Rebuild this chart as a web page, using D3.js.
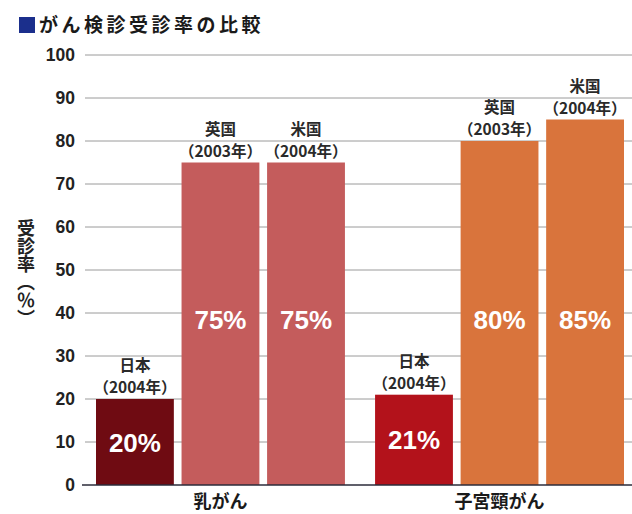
<!DOCTYPE html>
<html>
<head>
<meta charset="utf-8">
<script src="https://cdn.jsdelivr.net/npm/d3@7"></script>
<style>
  html, body { margin: 0; padding: 0; background: #fff; }
  svg { display: block; }
</style>
</head>
<body>
<svg id="chart" width="632" height="514"></svg>
<script>
// Cancer screening rates by country
const categories = ["乳がん", "子宮頸がん"];
const countries = ["日本", "英国", "米国"];
const years = [["2004年", "2003年", "2004年"], ["2004年", "2003年", "2004年"]];
const breastRates = [20, 75, 75];
const cervicalRates = [21, 80, 85];
const seriesValues = [breastRates, cervicalRates];
const yTicks = [0, 10, 20, 30, 40, 50, 60, 70, 80, 90, 100];
const barColors = [
  ["#6f0b12", "#c45c5c", "#c45c5c"],
  ["#b3121b", "#d9743c", "#d9743c"]
];

const svg = d3.select("#chart");
const jpFont = "'Noto Sans CJK JP', 'Noto Sans', sans-serif";
const numFont = "'Liberation Sans', Arial, sans-serif";

const y = d3.scaleLinear().domain([0, 100]).range([485, 55]);
const x0 = d3.scaleBand().domain(categories).range([96, 624]).paddingInner(0.108).paddingOuter(0);
const x1 = d3.scaleBand().domain(countries).range([0, x0.bandwidth()]).paddingInner(0.09).paddingOuter(0);

// Title with square marker
svg.append("rect").attr("x", 19).attr("y", 17).attr("width", 16).attr("height", 16).attr("fill", "#1b2f8c");
svg.append("text").attr("x", 39).attr("y", 32)
  .attr("font-family", jpFont).attr("font-weight", 700).attr("font-size", 19)
  .attr("letter-spacing", 3.5).attr("fill", "#1a1a1a")
  .text("がん検診受診率の比較");

// Tick labels
const axis = d3.axisLeft(y).tickValues(yTicks).tickSize(0).tickPadding(10);
const gAxis = svg.append("g").attr("transform", "translate(85,0)").call(axis);
gAxis.select(".domain").remove();
gAxis.selectAll("text")
  .attr("font-family", numFont).attr("font-weight", 700).attr("font-size", 17.5).attr("fill", "#222");

// Gridlines
svg.append("g").selectAll("line").data(yTicks.filter(t => t > 0)).join("line")
  .attr("x1", 85).attr("x2", 632)
  .attr("y1", d => y(d)).attr("y2", d => y(d))
  .attr("stroke", "#9a9a9a").attr("stroke-width", 1);

// Bars
const groups = svg.append("g").selectAll("g").data(categories).join("g")
  .attr("transform", d => `translate(${x0(d)},0)`);

groups.each(function (cat, ci) {
  const g = d3.select(this);
  const rows = countries.map((c, i) => ({ c, i, v: seriesValues[ci][i], yr: years[ci][i] }));

  g.selectAll("rect").data(rows).join("rect")
    .attr("x", d => x1(d.c)).attr("width", x1.bandwidth())
    .attr("y", d => y(d.v)).attr("height", d => y(0) - y(d.v))
    .attr("fill", d => barColors[ci][d.i]);

  // Value labels inside bars
  g.selectAll("text.val").data(rows).join("text").attr("class", "val")
    .attr("x", d => x1(d.c) + x1.bandwidth() / 2)
    .attr("y", d => (d.v >= 50 ? y(38.6) : y(d.v / 2)) + 9.5)
    .attr("text-anchor", "middle")
    .attr("font-family", numFont).attr("font-weight", 700).attr("font-size", 26).attr("fill", "#fff")
    .text(d => d.v + "%");

  // Country / year labels above bars
  const lab = g.selectAll("g.lab").data(rows).join("g").attr("class", "lab");
  lab.append("text")
    .attr("x", d => x1(d.c) + x1.bandwidth() / 2)
    .attr("y", d => y(d.v) - 28)
    .attr("text-anchor", "middle")
    .attr("font-family", jpFont).attr("font-weight", 700).attr("font-size", 15.5).attr("fill", "#2a2a2a")
    .text(d => d.c);
  lab.append("text")
    .attr("x", d => x1(d.c) + x1.bandwidth() / 2)
    .attr("y", d => y(d.v) - 6)
    .attr("text-anchor", "middle")
    .attr("font-family", jpFont).attr("font-weight", 700).attr("font-size", 15.5).attr("fill", "#2a2a2a")
    .text(d => "（" + d.yr + "）");

  // Category label
  g.append("text")
    .attr("x", x0.bandwidth() / 2).attr("y", 508)
    .attr("text-anchor", "middle")
    .attr("font-family", jpFont).attr("font-weight", 700).attr("font-size", 18).attr("fill", "#1a1a1a")
    .text(cat);
});

// Baseline
svg.append("line").attr("x1", 82).attr("x2", 632).attr("y1", y(0)).attr("y2", y(0))
  .attr("stroke", "#2b2b3a").attr("stroke-width", 1.6);

// Vertical axis title
svg.append("text")
  .attr("x", 26).attr("y", 219)
  .attr("font-family", jpFont).attr("font-weight", 700).attr("font-size", 18).attr("fill", "#222")
  .style("writing-mode", "vertical-rl")
  .text("受診率（％）");
</script>
</body>
</html>
